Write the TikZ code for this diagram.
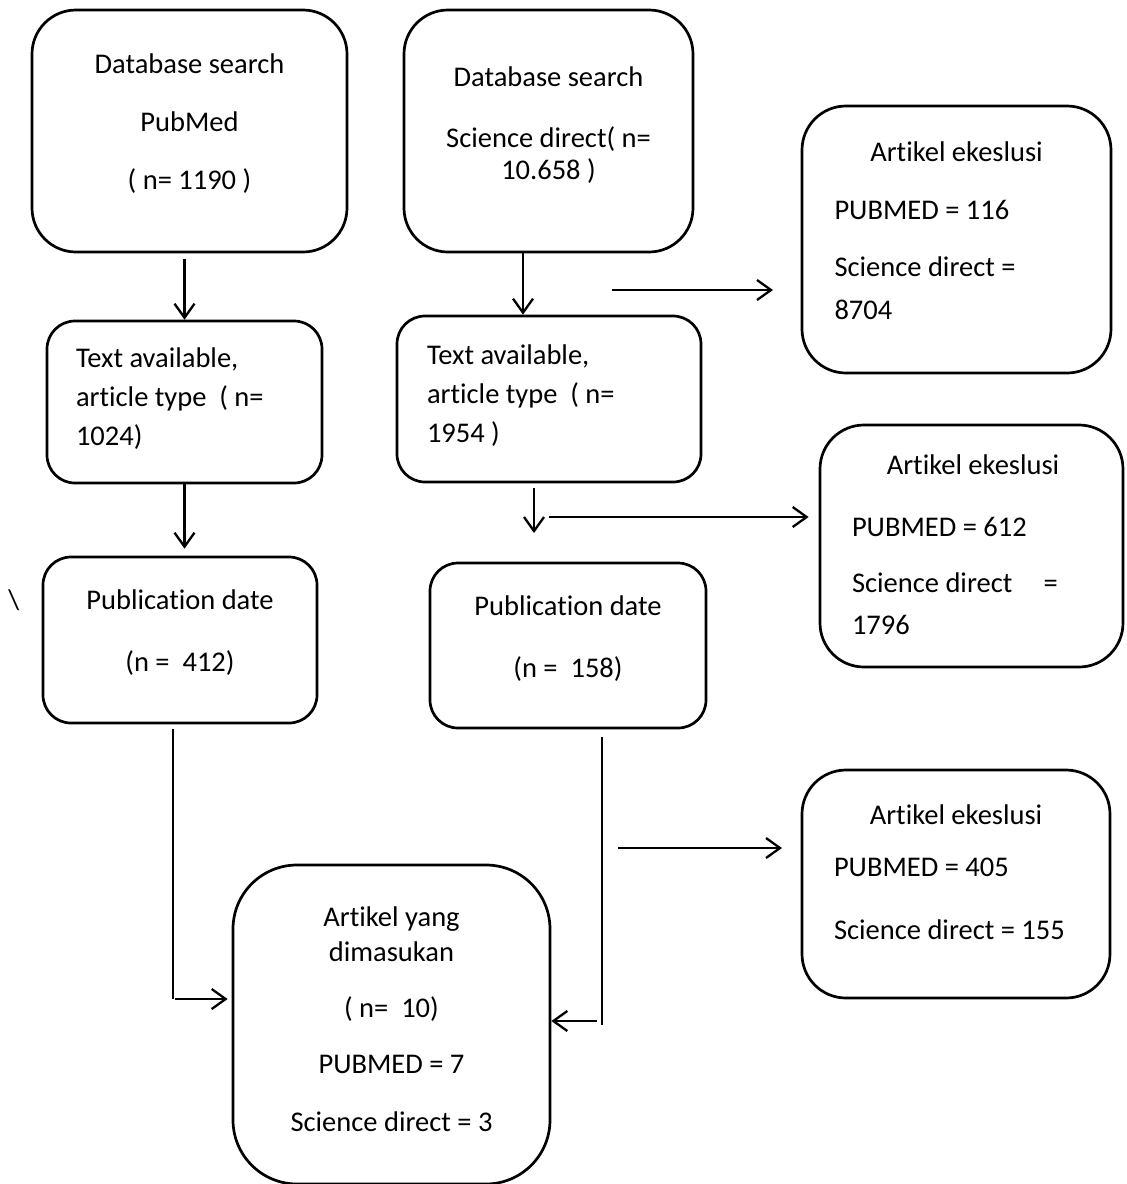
\documentclass[tikz,border=0pt]{standalone}
\usepackage{fontspec}
\setmainfont{Carlito}[Ligatures=NoCommon]
\usetikzlibrary{arrows.meta}

\begin{document}
\begin{tikzpicture}[x=0.5pt,y=-0.5pt]
        \tikzstyle{box} = [draw,line width=1.35pt,rounded corners=22pt,inner sep=0pt]
        \tikzstyle{smallbox} = [box,rounded corners=14pt]
        \tikzstyle{txt} = [inner sep=0pt,font=\fontsize{14.25pt}{19.5pt}\selectfont]
        \tikzstyle{arrow} = [line width=1.15pt,-{Straight Barb[length=7pt,width=10pt]}]
        \tikzstyle{thinline} = [line width=0.6pt]

        \useasboundingbox (0,0) rectangle (1126,1184);

        % search
        \node [box,minimum width=157.5pt,minimum height=121pt] (dbPub) at (189.5,131) {};
        \node [txt,align=center] (dbPubText) at ([yshift=3.5pt]dbPub.center) {Database search\\[9.5pt]PubMed\\[9.5pt]( n= 1190 )};
        \node [box,minimum width=144.5pt,minimum height=121pt] (dbSd) at (548.5,131) {};
        \node [txt,align=center] (dbSdText) at ([yshift=2.75pt]dbSd.center) {Database search\\[11pt]Science direct( n=\\[-3.5pt]10.658 )};

        % text available
        \node [smallbox,minimum width=137.5pt,minimum height=81pt] (txtPub) at (184.5,402) {};
        \node [txt,text width=108.5pt,align=flush left] (txtPubText) at ([yshift=1.5pt]txtPub.center) {Text available,\\article type~ ( n=\\1024)};
        \node [smallbox,minimum width=152pt,minimum height=83pt] (txtSd) at (549,399) {};
        \node [txt,text width=122pt,align=flush left] (txtSdText) at ([yshift=1.5pt]txtSd.center) {Text available,\\article type~ ( n=\\1954 )};

        % publication date
        \node [smallbox,minimum width=137pt,minimum height=83pt] (pubPub) at (180,640) {};
        \node [txt,align=center] (pubPubText) at ([yshift=3.5pt]pubPub.center) {Publication date\\[11.5pt](n =~ 412)};
        \node [smallbox,minimum width=138pt,minimum height=82.5pt] (pubSd) at (568,645.5) {};
        \node [txt,align=center] (pubSdText) at ([yshift=3.5pt]pubSd.center) {Publication date\\[11.5pt](n =~ 158)};

        % excluded
        \node [box,minimum width=154.5pt,minimum height=133.5pt] (exc1) at (956.5,239.5) {};
        \node [txt,text width=122pt,align=flush left] (exc1Text) at ([yshift=4.25pt]exc1.center) {\makebox[122pt]{Artikel ekeslusi}\\[9.5pt]PUBMED = 116\\[9pt]Science direct =\\[2pt]8704};
        \node [box,minimum width=151.5pt,minimum height=121pt] (exc2) at (971.5,546) {};
        \node [txt,text width=121pt,align=flush left] (exc2Text) at ([xshift=0.75pt,yshift=0.5pt]exc2.center) {\makebox[121pt]{Artikel ekeslusi}\\[11.5pt]PUBMED = 612\\[8.5pt]Science direct\hspace{1.1em}=\\[1.5pt]1796};
        \node [box,minimum width=154pt,minimum height=114pt] (exc3) at (956,884) {};
        \node [txt,text width=122pt,align=flush left] (exc3Text) at ([yshift=6pt]exc3.center) {\makebox[122pt]{Artikel ekeslusi}\\[6.5pt]PUBMED = 405\\[12pt]Science direct = 155};

        % included
        \node [box,rounded corners=32pt,minimum width=158.5pt,minimum height=159.5pt] (final) at (391.5,1024.5) {};
        \node [txt,align=center] (finalText) at ([yshift=2.5pt]final.center) {Artikel yang\\[-2pt]dimasukan\\[8.5pt]( n=~ 10)\\[8.5pt]PUBMED = 7\\[9.5pt]Science direct = 3};

        \node [txt] (slash) at (14,600) {\textbackslash};

        \draw [arrow] ([yshift=-3pt]dbPub.south -| txtPub.north) -- (txtPub.north);
        \draw [arrow] ([xshift=-12.75pt]dbSd.south) -- ([xshift=-12.75pt]dbSd.south |- txtSd.north);
        \coordinate (ex1a) at (612,290);
        \coordinate (ex1b) at (773,290);
        \draw [arrow] (ex1a) -- (ex1b);

        \draw [arrow] (txtPub.south) -- ([yshift=3.5pt]pubPub.north -| txtPub.south);
        \coordinate (sdDown) at (534,533);
        \draw [arrow] ([yshift=-2.5pt]txtSd.south -| sdDown) -- (sdDown);
        \coordinate (ex2a) at (549,517);
        \draw [arrow] (ex2a) -- ([xshift=-5pt]exc2.west |- ex2a);

        \coordinate (pubPubEnd) at (173,999);
        \draw [thinline] ([yshift=-2.5pt]pubPub.south -| pubPubEnd) -- (pubPubEnd);
        \draw [arrow] ([xshift=1pt]pubPubEnd) -- ([xshift=-2pt]final.west |- pubPubEnd);
        \coordinate (pubSdEnd) at (602,1025);
        \draw [thinline] ([yshift=-4pt]pubSd.south -| pubSdEnd) -- (pubSdEnd);
        \coordinate (toFinal) at (597,1021);
        \draw [arrow] (toFinal) -- (final.east |- toFinal);
        \coordinate (ex3a) at (618,848);
        \coordinate (ex3b) at (782,848);
        \draw [arrow] (ex3a) -- (ex3b);
    \end{tikzpicture}
\end{document}
